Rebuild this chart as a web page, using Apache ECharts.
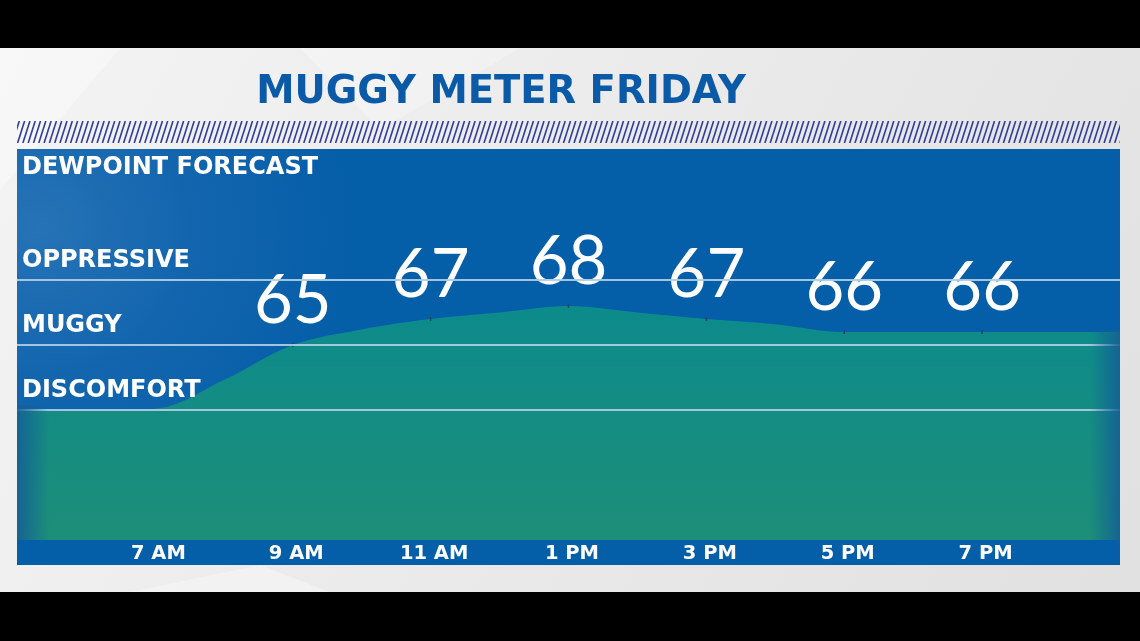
<!DOCTYPE html>
<html><head><meta charset="utf-8">
<script src="https://cdn.jsdelivr.net/npm/echarts@6/dist/echarts.min.js"></script>
<style>html,body{margin:0;padding:0;background:#000}#c{width:1140px;height:641px}</style>
</head><body><div id="c"></div>
<script>
// ---- data ----
const titleText = 'MUGGY METER FRIDAY';
const panelTitle = 'DEWPOINT FORECAST';
const hours = ['5 AM','6 AM','7 AM','8 AM','9 AM','10 AM','11 AM','12 PM','1 PM','2 PM','3 PM','4 PM','5 PM','6 PM','7 PM','8 PM','9 PM'];
const dewpoint = [60, 60, 60.1, 62.3, 65, 66.2, 67, 67.5, 68, 67.5, 67, 66.6, 66, 66, 66, 66, 66];
const axisHours = ['7 AM','9 AM','11 AM','1 PM','3 PM','5 PM','7 PM'];
const labeledHours = ['9 AM','11 AM','1 PM','3 PM','5 PM','7 PM'];
const labeledValues = [65, 67, 68, 67, 66, 66];
const zoneNames = ['OPPRESSIVE','MUGGY','DISCOMFORT'];
const zoneLines = [70, 65, 60];
const yMin = 50, yMax = 80, yStep = 5;

// ---- styling ----
const W = 1140, H = 641;
const PX0 = 17, PX1 = 1120, PY0 = 149, PY1 = 565;
const BOLD = '"DejaVu Sans"';

const hc = document.createElement('canvas');
hc.width = PX1 - PX0; hc.height = 22;
const g = hc.getContext('2d');
g.strokeStyle = '#2f3d9e'; g.lineWidth = 1.6;
for (let x = -10; x < hc.width + 10; x += 5.3) {
  g.beginPath(); g.moveTo(x, 22); g.lineTo(x + 7, 0); g.stroke();
}

const chart = echarts.init(document.getElementById('c'), null, {renderer: 'canvas'});
const option = {
  backgroundColor: '#ebebeb',
  animation: false,
  grid: {left: PX0, right: W - PX1, top: 150, bottom: H - 540},
  xAxis: {
    type: 'category', data: hours, boundaryGap: false,
    axisLine: {show: false}, axisTick: {show: false}, splitLine: {show: false},
    axisLabel: {
      interval: (i, v) => axisHours.indexOf(v) >= 0,
      color: '#ffffff', fontFamily: 'DejaVu Sans', fontWeight: 700, fontSize: 19.5, margin: 4,
      padding: [0, 0, 0, 7]
    }
  },
  yAxis: {
    type: 'value', min: yMin, max: yMax, interval: yStep,
    axisLine: {show: false}, axisTick: {show: false}, axisLabel: {show: false}, splitLine: {show: false}
  },
  graphic: [
    {type: 'rect', z: -20, shape: {x: 0, y: 0, width: W, height: H},
      style: {fill: {type: 'linear', x: 0, y: 0, x2: 1, y2: 1, colorStops: [{offset: 0, color: '#f4f4f4'}, {offset: 1, color: '#e0e0e0'}]}}},
    {type: 'polygon', z: -19, shape: {points: [[0, 48], [120, 48], [0, 190]]}, style: {fill: 'rgba(255,255,255,0.35)'}},
    {type: 'polygon', z: -19, shape: {points: [[300, 48], [520, 48], [380, 130]]}, style: {fill: 'rgba(255,255,255,0.25)'}},
    {type: 'polygon', z: -19, shape: {points: [[130, 592], [260, 565], [330, 592]]}, style: {fill: 'rgba(255,255,255,0.3)'}},
    {type: 'rect', z: -10, shape: {x: PX0, y: PY0, width: PX1 - PX0, height: PY1 - PY0}, style: {fill: '#055ea8'}},
    {type: 'rect', z: -9, shape: {x: PX0, y: PY0, width: PX1 - PX0, height: 391},
      style: {fill: {type: 'radial', x: 0.02, y: 0.2, r: 0.8, colorStops: [{offset: 0, color: 'rgba(80,140,200,0.45)'}, {offset: 0.5, color: 'rgba(70,130,195,0.2)'}, {offset: 1, color: 'rgba(70,130,195,0)'}]}}},
    {type: 'image', z: -8, style: {image: hc, x: PX0, y: 121, width: PX1 - PX0, height: 22}},
    {type: 'text', z: 10, style: {text: titleText, x: 501, y: 93, align: 'center', verticalAlign: 'middle',
      fill: '#0b5aa8', font: '700 38.5px ' + BOLD}},
    {type: 'text', z: 10, style: {text: panelTitle, x: 22, y: 168, align: 'left', verticalAlign: 'middle',
      fill: '#ffffff', font: '700 24px ' + BOLD}},
    {type: 'rect', z: 50, shape: {x: PX0, y: 405, width: 32, height: 135},
      style: {fill: {type: 'linear', x: 0, y: 0, x2: 1, y2: 0, colorStops: [{offset: 0, color: 'rgba(20,95,150,0.9)'}, {offset: 1, color: 'rgba(20,95,150,0)'}]}}},
    {type: 'rect', z: 50, shape: {x: PX1 - 30, y: 330, width: 30, height: 210},
      style: {fill: {type: 'linear', x: 0, y: 0, x2: 1, y2: 0, colorStops: [{offset: 0, color: 'rgba(20,95,150,0)'}, {offset: 1, color: 'rgba(20,95,150,0.9)'}]}}},
    {type: 'rect', z: 60, shape: {x: 0, y: 0, width: W, height: 48}, style: {fill: '#000'}},
    {type: 'rect', z: 60, shape: {x: 0, y: 592, width: W, height: H - 592}, style: {fill: '#000'}}
  ],
  series: [{
    type: 'line', data: dewpoint, smooth: 0.35,
    symbol: 'rect',
    symbolSize: (v, p) => labeledHours.indexOf(hours[p.dataIndex]) >= 0 ? [1.5, 4] : 0,
    itemStyle: {color: '#24465e'},
    lineStyle: {width: 0},
    areaStyle: {opacity: 1, color: {type: 'linear', x: 0, y: 0, x2: 0, y2: 1, colorStops: [{offset: 0, color: '#0c8b8c'}, {offset: 1, color: '#1d8e78'}]}},
    label: {
      show: true, position: 'top', distance: 8,
      formatter: p => { const i = labeledHours.indexOf(hours[p.dataIndex]); return i >= 0 ? String(labeledValues[i]) : ''; },
      color: '#ffffff', fontFamily: 'Lato', fontWeight: 400, fontSize: 67, lineHeight: 67
    },
    markLine: {
      silent: true, symbol: 'none', animation: false,
      lineStyle: {color: 'rgba(175,205,228,0.92)', width: 2, type: 'solid', opacity: 1},
      label: {show: true, position: 'insideStartTop', distance: [5, 7], formatter: '{b}',
        color: '#ffffff', opacity: 1, fontFamily: 'DejaVu Sans', fontWeight: 700, fontSize: 24},
      data: zoneLines.map((v, i) => ({yAxis: v, name: zoneNames[i]}))
    }
  }]
};
chart.setOption(option);
</script>
</body></html>
